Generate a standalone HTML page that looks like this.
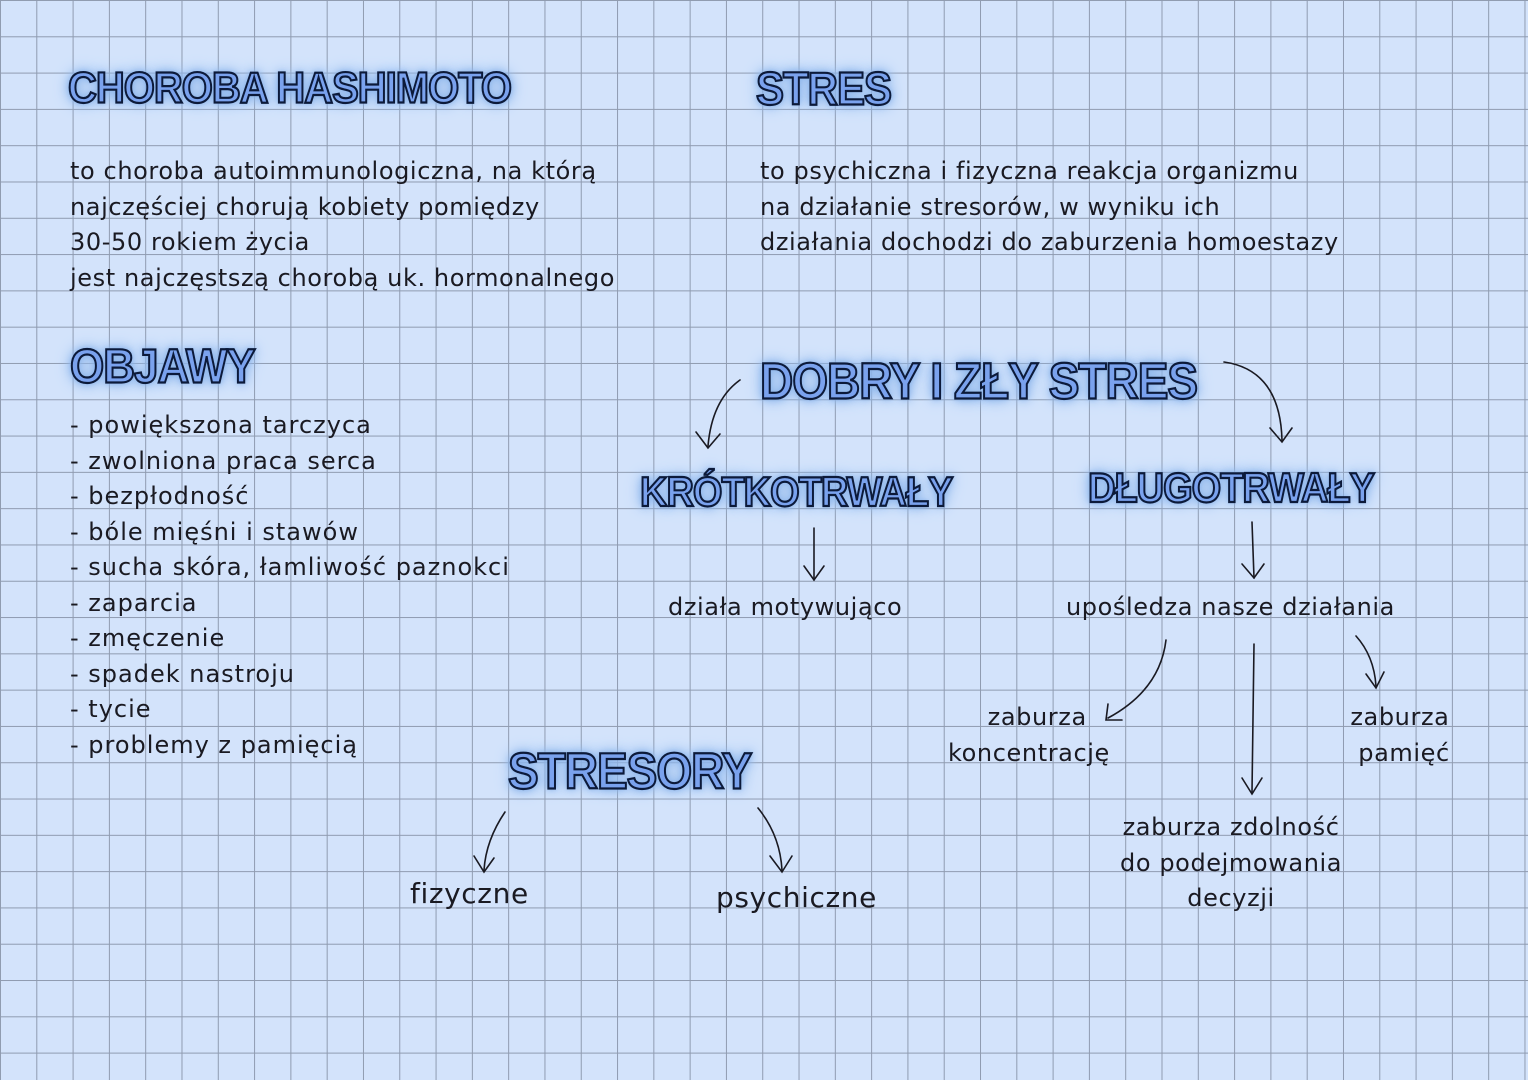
<!DOCTYPE html>
<html><head><meta charset="utf-8"><style>
body{margin:0;width:1528px;height:1080px;overflow:hidden;background-color:#d3e3fb;
background-image:linear-gradient(to right,#8f9bb0 1px,transparent 1px),linear-gradient(to bottom,#8f9bb0 1px,transparent 1px);
background-size:36.3px 36.3px;background-position:0 0;font-family:"DejaVu Sans","Liberation Sans",sans-serif;position:relative}
.t{position:absolute;color:#1a1a22;font-size:24px;line-height:35.5px;white-space:nowrap;letter-spacing:0.6px}
.h{position:absolute;font-family:"Liberation Sans",sans-serif;font-weight:900;color:#7aa2ee;-webkit-text-stroke:2px #0c1a3a;
text-shadow:0 0 4px #8cb4ea,0 0 8px #8cb4ea,0 0 12px #8cb4ea,0 0 16px #9cc0ee;white-space:nowrap;letter-spacing:-1px;transform:scaleY(1.1)}
svg{position:absolute;left:0;top:0}
</style></head><body>
<div class="h" style="left:68px;top:66px;font-size:40px">CHOROBA HASHIMOTO</div>
<div class="h" style="left:756px;top:65px;font-size:42px">STRES</div>
<div class="t" style="left:70px;top:154px">to choroba autoimmunologiczna, na którą<br>najczęściej chorują kobiety pomiędzy<br>30-50 rokiem życia<br>jest najczęstszą chorobą uk. hormonalnego</div>
<div class="t" style="left:760px;top:154px">to psychiczna i fizyczna reakcja organizmu<br>na działanie stresorów, w wyniku ich<br>działania dochodzi do zaburzenia homoestazy</div>
<div class="h" style="left:70px;top:342px;font-size:44px">OBJAWY</div>
<div class="t" style="left:70px;top:408px;letter-spacing:1px">- powiększona tarczyca<br>- zwolniona praca serca<br>- bezpłodność<br>- bóle mięśni i stawów<br>- sucha skóra, łamliwość paznokci<br>- zaparcia<br>- zmęczenie<br>- spadek nastroju<br>- tycie<br>- problemy z pamięcią</div>
<div class="h" style="left:760px;top:354px;font-size:46px">DOBRY I ZŁY STRES</div>
<div class="h" style="left:640px;top:472px;font-size:38px">KRÓTKOTRWAŁY</div>
<div class="h" style="left:1088px;top:468px;font-size:38px">DŁUGOTRWAŁY</div>
<div class="t" style="left:668px;top:590px">działa motywująco</div>
<div class="t" style="left:1066px;top:590px">upośledza nasze działania</div>
<div class="t" style="left:948px;top:700px;text-align:center">&nbsp;&nbsp;zaburza<br>koncentrację</div>
<div class="t" style="left:1350px;top:700px;text-align:center">zaburza<br>&nbsp;pamięć</div>
<div class="t" style="left:1120px;top:810px;text-align:center">zaburza zdolność<br>do podejmowania<br>decyzji</div>
<div class="h" style="left:508px;top:744px;font-size:46px">STRESORY</div>
<div class="t" style="left:410px;top:876px;font-size:28px">fizyczne</div>
<div class="t" style="left:716px;top:880px;font-size:28px">psychiczne</div>
<svg width="1528" height="1080" fill="none" stroke="#1a1a22" stroke-width="1.6" stroke-linecap="round">
<path d="M740 380 Q712 400 708 446"/><path d="M696 432 L708 448 L720 434"/>
<path d="M1224 362 Q1280 370 1282 440"/><path d="M1270 428 L1282 442 L1292 428"/>
<path d="M814 528 L814 580"/><path d="M804 566 L814 580 L824 566"/>
<path d="M1252 522 L1254 578"/><path d="M1242 564 L1254 578 L1264 564"/>
<path d="M1166 640 Q1160 690 1108 718"/><path d="M1108 704 L1106 720 L1122 720"/>
<path d="M1254 644 L1252 792"/><path d="M1242 778 L1252 794 L1262 778"/>
<path d="M1356 636 Q1374 656 1376 686"/><path d="M1366 674 L1376 688 L1384 672"/>
<path d="M505 812 Q486 840 484 870"/><path d="M474 856 L484 872 L494 858"/>
<path d="M758 808 Q780 835 782 870"/><path d="M770 856 L782 872 L792 856"/>
</svg>
</body></html>
